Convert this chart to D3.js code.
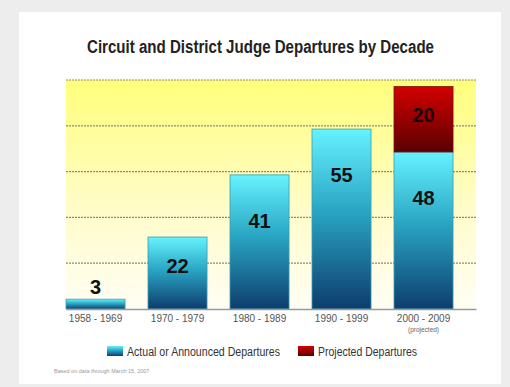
<!DOCTYPE html>
<html>
<head>
<meta charset="utf-8">
<script src="https://cdn.jsdelivr.net/npm/d3@7"></script>
<style>
  body { margin: 0; background: #ededed; }
  svg { display: block; }
</style>
</head>
<body>
<div id="chart"></div>
<script>
const decades = ['1958 - 1969', '1970 - 1979', '1980 - 1989', '1990 - 1999', '2000 - 2009'];
const actual = [3, 22, 41, 55, 48];
const projected = [0, 0, 0, 0, 20];
const yTicks = [0, 14, 28, 42, 56, 70];

const width = 510, height = 387;
const plot = { left: 66, right: 476, top: 80, bottom: 309 };

const svg = d3.select('#chart').append('svg')
    .attr('width', width)
    .attr('height', height);

const defs = svg.append('defs');

const bgGrad = defs.append('linearGradient').attr('id', 'bg').attr('x1', 0).attr('y1', 0).attr('x2', 0).attr('y2', 1);
bgGrad.append('stop').attr('offset', '0%').attr('stop-color', '#ffff7a');
bgGrad.append('stop').attr('offset', '55%').attr('stop-color', '#fffcc8');
bgGrad.append('stop').attr('offset', '100%').attr('stop-color', '#fffef4');

const blueGrad = defs.append('linearGradient').attr('id', 'blue').attr('x1', 0).attr('y1', 0).attr('x2', 0).attr('y2', 1);
blueGrad.append('stop').attr('offset', '0%').attr('stop-color', '#66f2ff');
blueGrad.append('stop').attr('offset', '45%').attr('stop-color', '#2aa6c4');
blueGrad.append('stop').attr('offset', '100%').attr('stop-color', '#0d3d6e');

const redGrad = defs.append('linearGradient').attr('id', 'red').attr('x1', 0).attr('y1', 0).attr('x2', 0).attr('y2', 1);
redGrad.append('stop').attr('offset', '0%').attr('stop-color', '#d40000');
redGrad.append('stop').attr('offset', '100%').attr('stop-color', '#5a0000');

// white panel
svg.append('rect')
    .attr('x', 19).attr('y', 12)
    .attr('width', 482).attr('height', 372)
    .attr('fill', '#ffffff');

const narrow = "'Liberation Sans', Arial, sans-serif";

svg.append('text')
    .attr('x', 87).attr('y', 53)
    .attr('font-family', narrow)
    .attr('font-weight', 'bold')
    .attr('font-size', 18)
    .attr('fill', '#222')
    .attr('textLength', 347)
    .attr('lengthAdjust', 'spacingAndGlyphs')
    .text('Circuit and District Judge Departures by Decade');

const xScale = d3.scaleBand()
    .domain(decades)
    .range([plot.left, plot.right])
    .paddingInner(0.28)
    .paddingOuter(0.14)
    .align(0);

const yScale = d3.scaleLinear()
    .domain([0, 70])
    .range([plot.bottom, plot.top]);

svg.append('rect')
    .attr('x', plot.left).attr('y', plot.top)
    .attr('width', plot.right - plot.left)
    .attr('height', plot.bottom - plot.top)
    .attr('fill', 'url(#bg)');

svg.append('g')
    .selectAll('line')
    .data(yTicks.slice(1))
    .enter()
    .append('line')
    .attr('x1', plot.left).attr('x2', plot.right)
    .attr('y1', d => yScale(d)).attr('y2', d => yScale(d))
    .attr('stroke', '#8a8a78')
    .attr('stroke-width', 1.2)
    .attr('stroke-dasharray', '2,1');

const data = decades.map((d, i) => ({ decade: d, actual: actual[i], projected: projected[i] }));

// actual bars
svg.selectAll('rect.actual')
    .data(data)
    .enter()
    .append('rect')
    .attr('class', 'actual')
    .attr('x', d => xScale(d.decade))
    .attr('y', d => yScale(d.actual))
    .attr('width', xScale.bandwidth())
    .attr('height', d => yScale(0) - yScale(d.actual))
    .attr('fill', 'url(#blue)')
    .attr('stroke', '#3a9fb0')
    .attr('stroke-width', 0.8);

// projected bars
svg.selectAll('rect.proj')
    .data(data.filter(d => d.projected > 0))
    .enter()
    .append('rect')
    .attr('class', 'proj')
    .attr('x', d => xScale(d.decade))
    .attr('y', d => yScale(d.actual + d.projected))
    .attr('width', xScale.bandwidth())
    .attr('height', d => yScale(d.actual) - yScale(d.actual + d.projected))
    .attr('fill', 'url(#red)')
    .attr('stroke', '#7a1010')
    .attr('stroke-width', 0.8);

const labelFont = "'Liberation Sans', Arial, sans-serif";

function labelY(top, h) {
    if (h < 25) return top - 5;
    return top + Math.min(53, h * 0.5);
}

svg.selectAll('text.val')
    .data(data)
    .enter()
    .append('text')
    .attr('class', 'val')
    .attr('x', d => xScale(d.decade) + xScale.bandwidth() / 2)
    .attr('y', d => labelY(yScale(d.actual), yScale(0) - yScale(d.actual)))
    .attr('text-anchor', 'middle')
    .attr('font-family', labelFont)
    .attr('font-weight', 'bold')
    .attr('font-size', 20)
    .attr('fill', '#111')
    .text(d => d.actual);

svg.selectAll('text.projval')
    .data(data.filter(d => d.projected > 0))
    .enter()
    .append('text')
    .attr('class', 'projval')
    .attr('x', d => xScale(d.decade) + xScale.bandwidth() / 2)
    .attr('y', d => yScale(d.actual + d.projected) + 35)
    .attr('text-anchor', 'middle')
    .attr('font-family', labelFont)
    .attr('font-weight', 'bold')
    .attr('font-size', 20)
    .attr('fill', '#1a0000')
    .text(d => d.projected);

// baseline + category labels
svg.append('g')
    .attr('transform', `translate(0,${plot.bottom})`)
    .call(d3.axisBottom(xScale).tickSize(0).tickPadding(6))
    .call(g => g.select('.domain').attr('stroke', '#999').attr('stroke-width', 1.5))
    .call(g => g.selectAll('text')
        .attr('font-family', labelFont)
        .attr('font-size', 10)
        .attr('fill', '#555'));

svg.append('text')
    .attr('x', xScale(decades[4]) + xScale.bandwidth() / 2)
    .attr('y', 332)
    .attr('text-anchor', 'middle')
    .attr('font-family', labelFont)
    .attr('font-size', 6.5)
    .attr('fill', '#666')
    .text('(projected)');

// legend
const legend = [
    { label: 'Actual or Announced Departures', fill: 'url(#blue)', x: 107, w: 153 },
    { label: 'Projected Departures', fill: 'url(#red)', x: 298, w: 99 }
];
const lg = svg.selectAll('g.legend')
    .data(legend)
    .enter()
    .append('g')
    .attr('class', 'legend')
    .attr('transform', d => `translate(${d.x},346)`);
lg.append('rect')
    .attr('width', 16).attr('height', 10)
    .attr('fill', d => d.fill);
lg.append('text')
    .attr('x', 20).attr('y', 9.5)
    .attr('font-family', narrow)
    .attr('font-size', 12.5)
    .attr('fill', '#333')
    .attr('textLength', d => d.w)
    .attr('lengthAdjust', 'spacingAndGlyphs')
    .text(d => d.label);

svg.append('text')
    .attr('x', 54).attr('y', 373)
    .attr('font-family', labelFont)
    .attr('font-size', 5.5)
    .attr('fill', '#999')
    .text('Based on data through March 15, 2007');
</script>
</body>
</html>
